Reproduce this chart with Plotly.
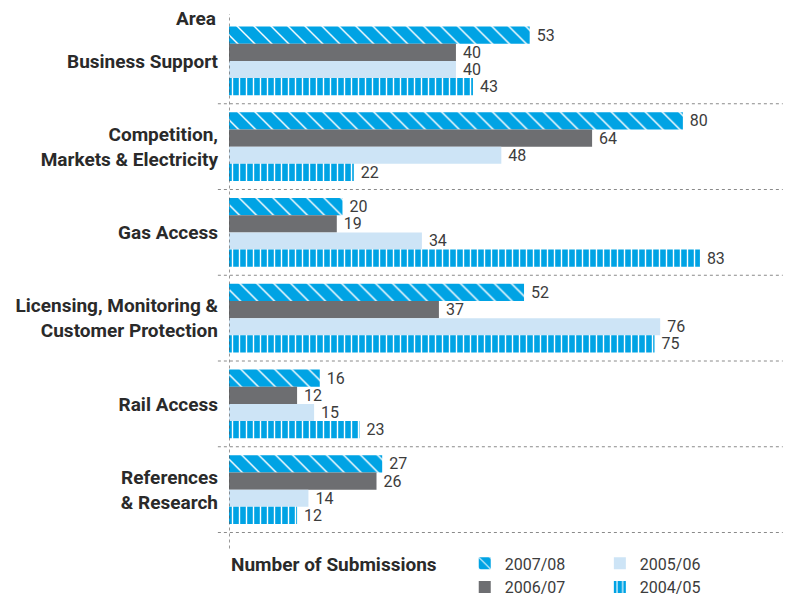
import plotly.graph_objects as go

# Submissions by area and year
areas = [
    "Business Support",
    "Competition,<br>Markets & Electricity",
    "Gas Access",
    "Licensing, Monitoring &<br>Customer Protection",
    "Rail Access",
    "References<br>& Research",
]
years = ["2007/08", "2006/07", "2005/06", "2004/05"]
v_0708 = [53, 80, 20, 52, 16, 27]
v_0607 = [40, 64, 19, 37, 12, 26]
v_0506 = [40, 48, 34, 76, 15, 14]
v_0405 = [43, 22, 83, 75, 23, 12]

BLUE = '#00a3e4'
GREY = '#6d6e71'
PALE = '#cde4f6'
TXT = '#3c3c3c'
FONT = 'Roboto, Arial'

styles = [
    dict(color=BLUE, pattern=dict(shape='\\', fgcolor='white', bgcolor=BLUE, size=12, solidity=0.12, fillmode='replace')),
    dict(color=GREY),
    dict(color=PALE),
    dict(color=BLUE, pattern=dict(shape='|', fgcolor='white', bgcolor=BLUE, size=7, solidity=0.2, fillmode='replace')),
]
legends = ['legend', 'legend', 'legend2', 'legend2']

fig = go.Figure()
for name, vals, st, lg in zip(years, [v_0708, v_0607, v_0506, v_0405], styles, legends):
    fig.add_trace(go.Bar(
        y=areas, x=vals, name=name, orientation='h',
        marker=dict(line=dict(width=0), **st),
        text=vals, texttemplate=' %{x}', textposition='outside',
        constraintext='none', cliponaxis=False,
        textfont=dict(family=FONT, size=16, color=TXT),
        legend=lg,
    ))

# dotted separators between areas
for k in range(len(areas)):
    fig.add_shape(type='line', xref='paper', yref='y', x0=-0.02, x1=0.996,
                  y0=k + 0.5, y1=k + 0.5,
                  line=dict(color='#8a8a8a', width=1, dash='dot'))
fig.add_shape(type='line', xref='x', yref='paper', x0=0, x1=0, y0=-0.03, y1=1.008,
              line=dict(color='#555555', width=1.2, dash='dot'))

fig.add_annotation(text='<b>Area</b>', xref='paper', yref='paper', x=-0.02, y=1.0,
                   xanchor='right', yanchor='middle', showarrow=False,
                   font=dict(family=FONT, size=19, color='#2a2a2a'))
fig.add_annotation(text='<b>Number of Submissions</b>', xref='paper', yref='paper', x=0, y=-0.062,
                   xanchor='left', yanchor='middle', showarrow=False,
                   font=dict(family=FONT, size=19, color='#2a2a2a'))

leg_style = dict(orientation='v', y=-0.026, xanchor='left', yanchor='top',
                 tracegroupgap=0, itemclick=False, traceorder='normal',
                 bgcolor='rgba(0,0,0,0)',
                 font=dict(family=FONT, size=16, color=TXT))

fig.update_layout(
    width=785, height=598,
    barmode='group', bargap=0.2, bargroupgap=0,
    plot_bgcolor='white', paper_bgcolor='white',
    margin=dict(l=229, r=0, t=18, b=65, autoexpand=False),
    showlegend=True,
    legend=dict(x=0.424, **leg_style),
    legend2=dict(x=0.667, **leg_style),
    xaxis=dict(range=[0, 98], visible=False),
    yaxis=dict(autorange='reversed', showgrid=False, zeroline=False, showline=False,
               ticks='', ticklabelstandoff=10,
               tickfont=dict(family=FONT, size=19, color='#2a2a2a'),
               tickprefix='<b>', ticksuffix='</b>'),
)

fig.write_html("out.html", config={'displayModeBar': False},
               post_script="document.body.style.margin='0';")
